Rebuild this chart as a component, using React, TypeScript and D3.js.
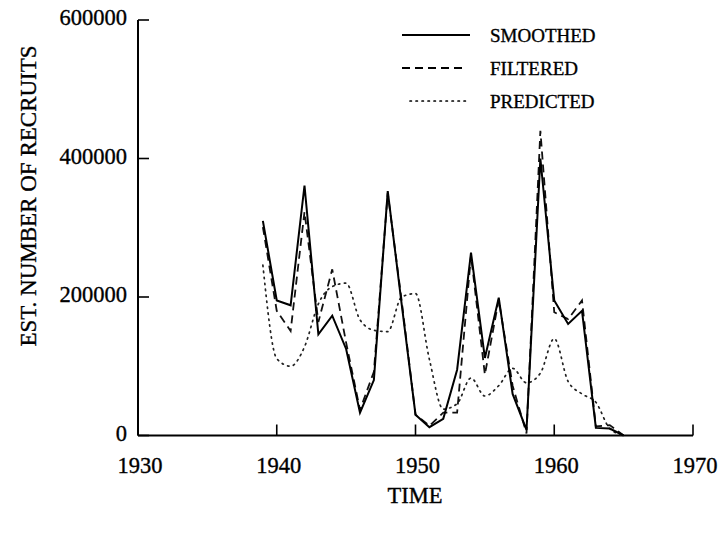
import React from "react";
import * as d3 from "d3";

const years = [1939, 1940, 1941, 1942, 1943, 1944, 1945, 1946, 1947, 1948, 1949, 1950, 1951, 1952, 1953, 1954, 1955, 1956, 1957, 1958, 1959, 1960, 1961, 1962, 1963, 1964, 1965];
const smoothed = [310000, 195000, 188000, 361000, 146000, 173000, 125000, 33000, 80000, 353000, 190000, 30000, 12000, 24000, 95000, 264000, 112000, 199000, 60000, 8000, 400000, 195000, 161000, 180000, 11000, 10000, 0];
const filtered = [301000, 180000, 151000, 323000, 164000, 240000, 134000, 37000, 92000, 350000, 195000, 30000, 14000, 33000, 33000, 260000, 88000, 196000, 72000, 3000, 440000, 178000, 168000, 195000, 13000, 15000, 0];
const predicted = [246000, 111000, 100000, 128000, 190000, 215000, 220000, 167000, 152000, 150000, 200000, 205000, 110000, 38000, 46000, 83000, 57000, 72000, 97000, 76000, 90000, 140000, 78000, 60000, 48000, 10000, 0];

const xTicks = [1930, 1940, 1950, 1960, 1970];
const yTicks = [0, 200000, 400000, 600000];
const legendLabels = ["SMOOTHED", "FILTERED", "PREDICTED"];

export default function App() {
  const x = d3.scaleLinear().domain([1930, 1970]).range([138, 693]);
  const y = d3.scaleLinear().domain([0, 600000]).range([435.5, 20]);
  const font = "'Liberation Serif', 'Times New Roman', serif";
  const textStroke = { stroke: "#000", strokeWidth: 0.35 };

  const mk = (vals: number[], curve: d3.CurveFactory) =>
    d3
      .line<number>()
      .x((_, i) => x(years[i]))
      .y((d) => y(d))
      .curve(curve)(vals) || "";

  const styles = [
    { dash: "none", w: 2 },
    { dash: "8 5", w: 1.8 },
    { dash: "1.4 4.6", w: 1.7 },
  ];
  const legendY = [35, 68, 101];

  return (
    <svg
      width={725}
      height={535}
      style={{ position: "absolute", left: 0, top: 0, background: "#fff" }}
    >
      {/* axes */}
      <line x1={x(1930)} x2={x(1970)} y1={y(0)} y2={y(0)} stroke="#000" strokeWidth={2} />
      <line x1={x(1930)} x2={x(1930)} y1={y(0)} y2={y(600000)} stroke="#000" strokeWidth={2} />
      {xTicks.map((t) => (
        <g key={t}>
          <line x1={x(t)} x2={x(t)} y1={y(0)} y2={y(0) - 11} stroke="#000" strokeWidth={1.6} />
          <text x={x(t) + 2} y={473} textAnchor="middle" fontFamily={font} fontSize={22.5} {...textStroke}>
            {t}
          </text>
        </g>
      ))}
      {yTicks.map((t) => (
        <g key={t}>
          <line x1={x(1930)} x2={x(1930) + 11} y1={y(t)} y2={y(t)} stroke="#000" strokeWidth={1.6} />
          <text x={127} y={y(t) + 5} textAnchor="end" fontFamily={font} fontSize={22.5} {...textStroke}>
            {t}
          </text>
        </g>
      ))}
      <text x={415} y={503} textAnchor="middle" fontFamily={font} fontSize={22.5} {...textStroke}>
        TIME
      </text>
      <text
        transform={`translate(36,196) rotate(-90)`}
        textAnchor="middle"
        fontFamily={font}
        fontSize={23}
        {...textStroke}
      >
        EST. NUMBER OF RECRUITS
      </text>

      {/* series */}
      <path d={mk(predicted, d3.curveMonotoneX)} fill="none" stroke="#222" strokeWidth={styles[2].w} strokeDasharray={styles[2].dash} strokeLinecap="round" />
      <path d={mk(filtered, d3.curveLinear)} fill="none" stroke="#111" strokeWidth={styles[1].w} strokeDasharray={styles[1].dash} />
      <path d={mk(smoothed, d3.curveLinear)} fill="none" stroke="#000" strokeWidth={styles[0].w} />

      {/* legend */}
      {legendLabels.map((lab, i) => (
        <g key={lab}>
          <line
            x1={i === 2 ? 410 : 402}
            x2={i === 0 ? 470 : 467}
            y1={legendY[i]}
            y2={legendY[i]}
            stroke="#000"
            strokeWidth={styles[i].w}
            strokeDasharray={styles[i].dash}
            strokeLinecap={i === 2 ? "round" : "butt"}
          />
          <text x={490} y={legendY[i] + 6.5} fontFamily={font} fontSize={19} {...textStroke}>
            {lab}
          </text>
        </g>
      ))}
    </svg>
  );
}
